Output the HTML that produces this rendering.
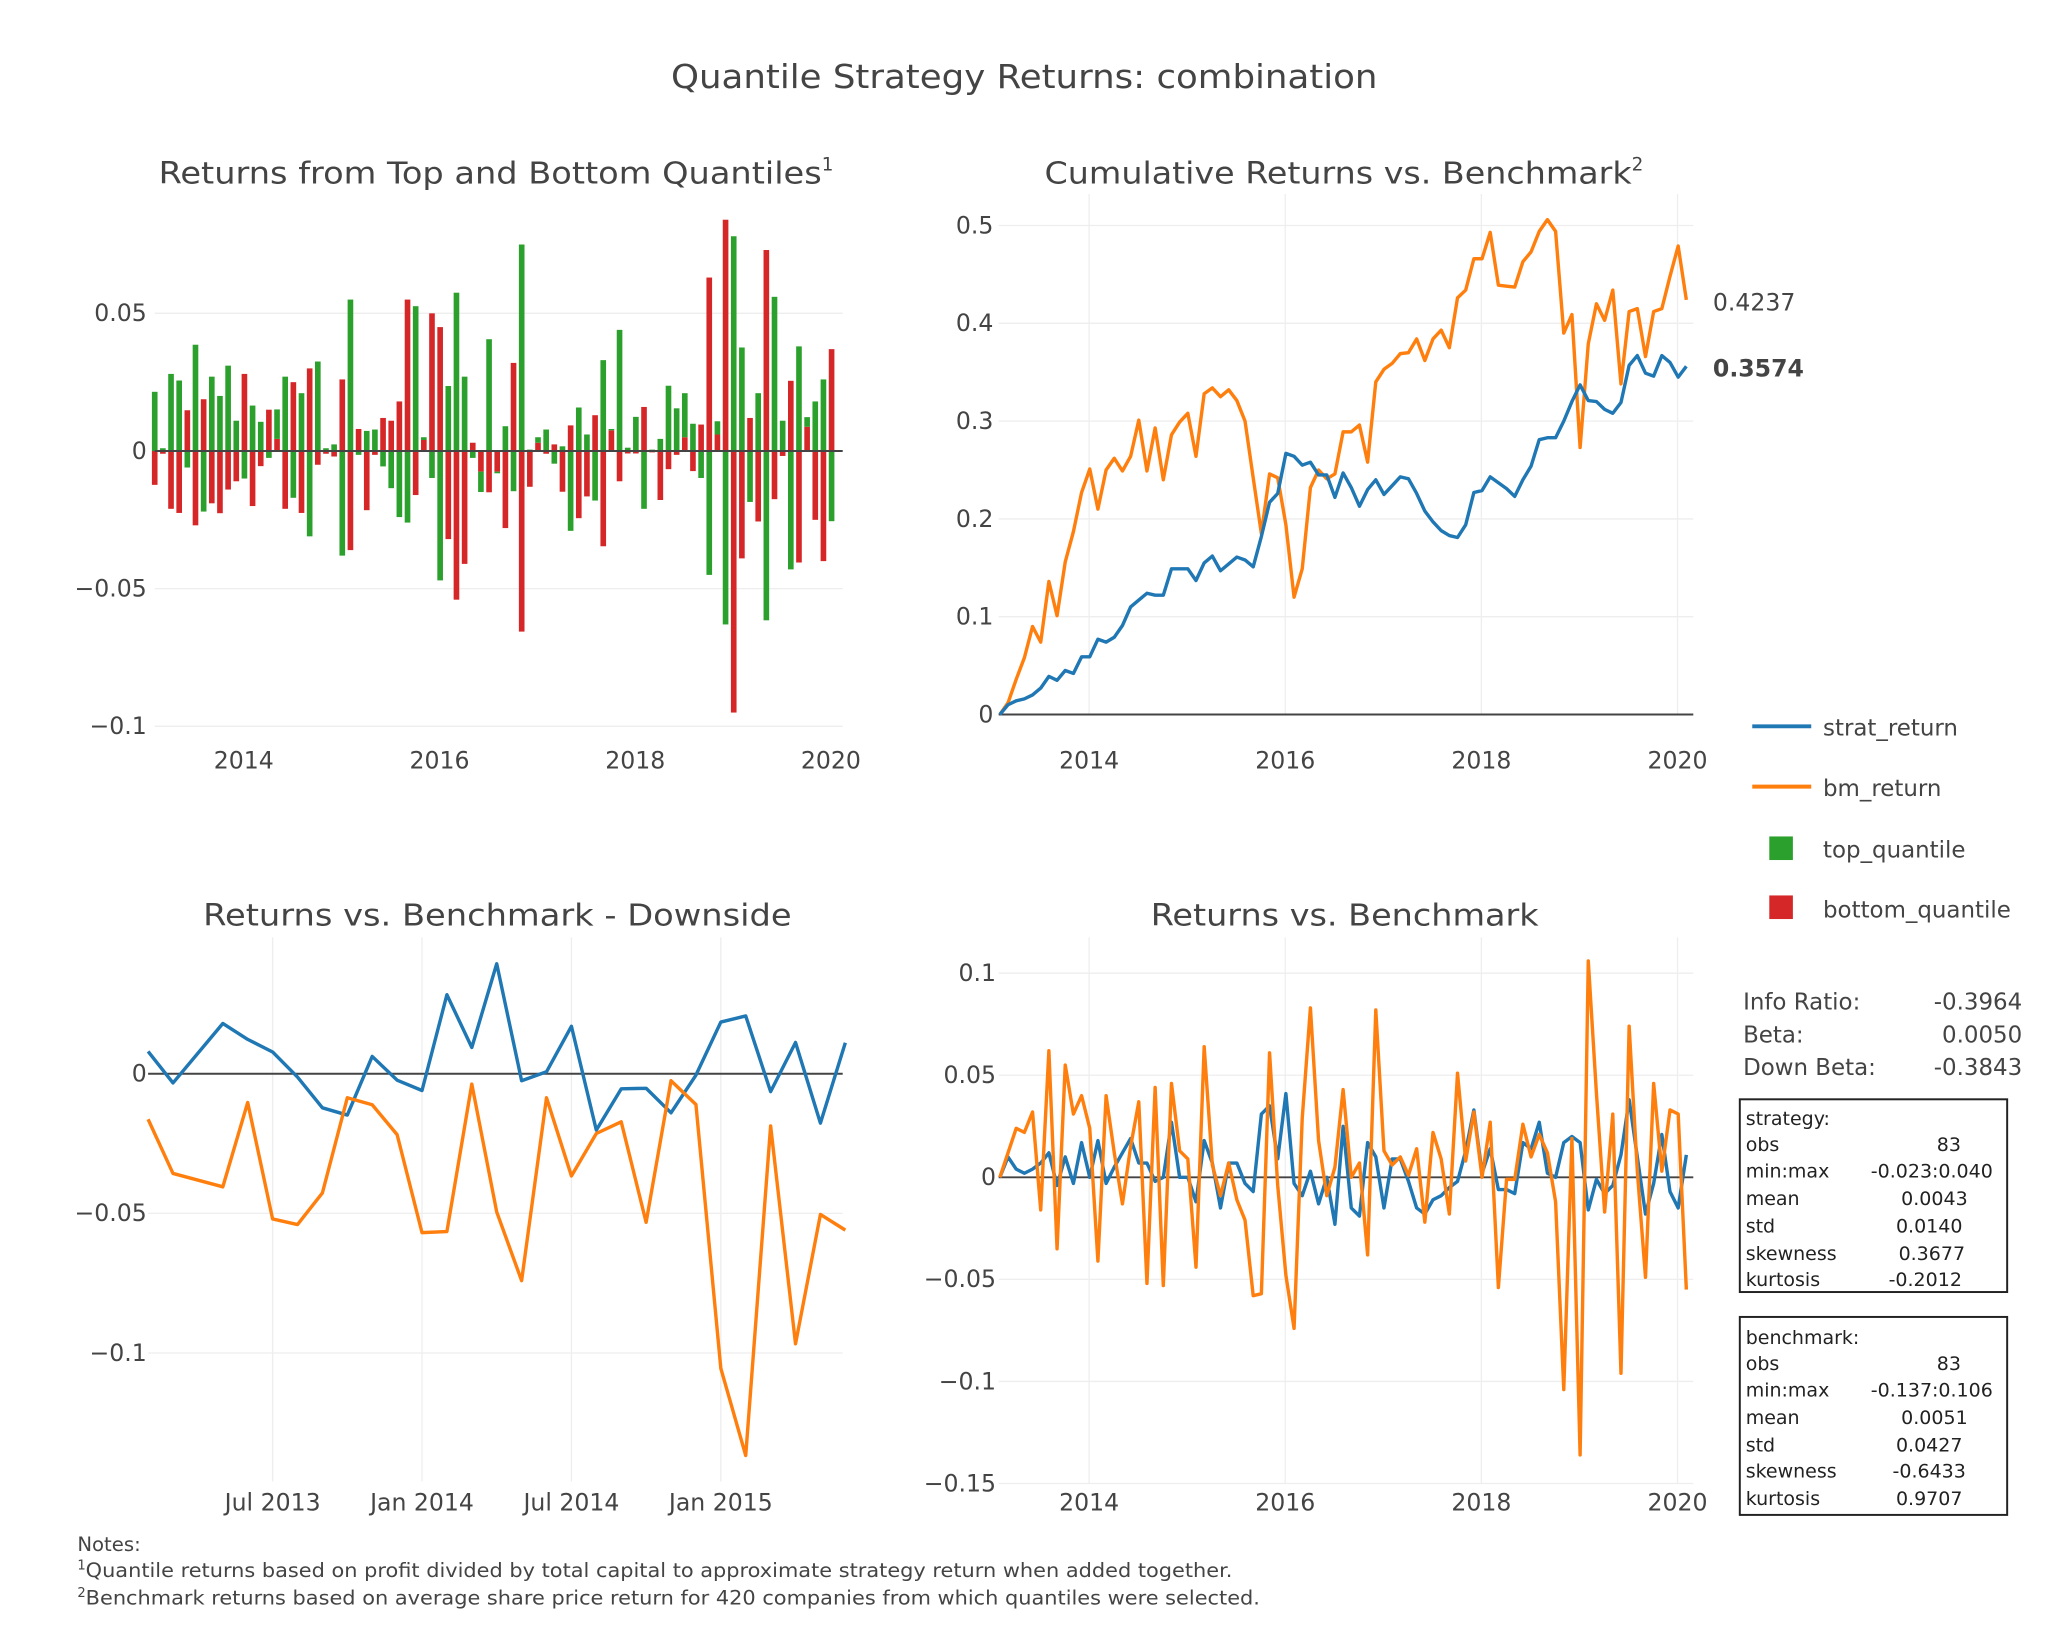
<!DOCTYPE html>
<html><head><meta charset="utf-8">
<style>
html,body{margin:0;padding:0;background:#fff;}
svg{display:block;font-family:"DejaVu Sans","Liberation Sans",sans-serif;}
</style></head>
<body>
<svg id="chart" width="2055" height="1627" viewBox="0 0 1568 1241" preserveAspectRatio="none" xmlns="http://www.w3.org/2000/svg">
<text x="512" y="67" textLength="539" lengthAdjust="spacingAndGlyphs" font-size="25" fill="#444">Quantile Strategy Returns: combination</text>
<text x="121" y="140" font-size="23" fill="#444"><tspan textLength="506" lengthAdjust="spacingAndGlyphs">Returns from Top and Bottom Quantiles</tspan><tspan font-size="14" dy="-10">1</tspan></text>
<text x="797" y="140" font-size="23" fill="#444"><tspan textLength="448" lengthAdjust="spacingAndGlyphs">Cumulative Returns vs. Benchmark</tspan><tspan font-size="14" dy="-10">2</tspan></text>
<text x="155" y="706" textLength="449" lengthAdjust="spacingAndGlyphs" font-size="23" fill="#444">Returns vs. Benchmark - Downside</text>
<text x="878" y="706" textLength="296" lengthAdjust="spacingAndGlyphs" font-size="23" fill="#444">Returns vs. Benchmark</text>
<g id="g1"></g>
<g id="g2"></g>
<g id="g3"></g>
<g id="g4"></g>
<text x="1307" y="237" font-size="18" fill="#444">0.4237</text>
<text x="1307" y="287" font-size="18" font-weight="bold" fill="#444">0.3574</text>
<g font-size="17.5" fill="#444">
<g><line x1="1337" x2="1382" y1="554" y2="554" stroke="#1f77b4" stroke-width="3"/><text x="1391" y="561">strat_return</text></g>
<g><line x1="1337" x2="1382" y1="600" y2="600" stroke="#ff7f0e" stroke-width="3"/><text x="1391" y="607">bm_return</text></g>
<g><rect x="1350" y="638" width="18" height="18" fill="#2ca02c"/><text x="1391" y="654">top_quantile</text></g>
<g><rect x="1350" y="683" width="18" height="18" fill="#d62728"/><text x="1391" y="700">bottom_quantile</text></g>
</g>
<g font-size="17.5" fill="#444">
<text x="1330" y="770">Info Ratio:</text><text x="1543" y="770" text-anchor="end">-0.3964</text>
<text x="1330" y="795">Beta:</text><text x="1543" y="795" text-anchor="end">0.0050</text>
<text x="1330" y="820">Down Beta:</text><text x="1543" y="820" text-anchor="end">-0.3843</text>
</g>
<g font-size="14.5" fill="#222">
<rect x="1327.5" y="838.5" width="204" height="147" fill="none" stroke="#222" stroke-width="1.5"/>
<text x="1332" y="858">strategy:</text>
<text x="1332" y="878">obs</text><text x="1487" y="878" text-anchor="middle">83</text>
<text x="1332" y="898">min:max</text><text x="1474" y="898" text-anchor="middle">-0.023:0.040</text>
<text x="1332" y="919">mean</text><text x="1476" y="919" text-anchor="middle">0.0043</text>
<text x="1332" y="940">std</text><text x="1472" y="940" text-anchor="middle">0.0140</text>
<text x="1332" y="961">skewness</text><text x="1474" y="961" text-anchor="middle">0.3677</text>
<text x="1332" y="981">kurtosis</text><text x="1469" y="981" text-anchor="middle">-0.2012</text>
</g>
<g font-size="14.5" fill="#222">
<rect x="1327.5" y="1004.5" width="204" height="151" fill="none" stroke="#222" stroke-width="1.5"/>
<text x="1332" y="1025">benchmark:</text>
<text x="1332" y="1045">obs</text><text x="1487" y="1045" text-anchor="middle">83</text>
<text x="1332" y="1065">min:max</text><text x="1474" y="1065" text-anchor="middle">-0.137:0.106</text>
<text x="1332" y="1086">mean</text><text x="1476" y="1086" text-anchor="middle">0.0051</text>
<text x="1332" y="1107">std</text><text x="1472" y="1107" text-anchor="middle">0.0427</text>
<text x="1332" y="1127">skewness</text><text x="1472" y="1127" text-anchor="middle">-0.6433</text>
<text x="1332" y="1148">kurtosis</text><text x="1472" y="1148" text-anchor="middle">0.9707</text>
</g>
<g font-size="15" fill="#444">
<text x="59" y="1183">Notes:</text>
<text x="59" y="1203"><tspan font-size="10" dy="-6">1</tspan><tspan dy="6" textLength="875" lengthAdjust="spacingAndGlyphs">Quantile returns based on profit divided by total capital to approximate strategy return when added together.</tspan></text>
<text x="59" y="1224"><tspan font-size="10" dy="-6">2</tspan><tspan dy="6" textLength="896" lengthAdjust="spacingAndGlyphs">Benchmark returns based on average share price return for 420 companies from which quantiles were selected.</tspan></text>
</g>
</svg>
<script>
// ---- data ----
var topQuantile = [0.0215,0.001,0.028,0.0256,-0.006,0.0386,-0.022,0.027,0.020,0.031,0.011,-0.010,0.0165,0.0106,-0.0025,0.0107,0.027,-0.017,0.021,-0.031,0.0325,0.001,0.0024,-0.038,0.055,-0.0014,0.0073,0.0078,-0.0056,-0.0135,-0.024,-0.026,0.0526,0.001,-0.0098,-0.047,0.0236,0.0575,0.027,-0.0025,-0.0074,0.0406,-0.0006,0.009,-0.0146,0.075,0.0005,0.002,0.0078,-0.0046,0.0017,-0.029,0.0158,0.006,-0.018,0.033,0.0005,0.044,0.0012,0.0124,-0.021,0.0005,0.0044,0.0237,0.0155,0.016,0.0099,-0.0098,-0.045,0.0048,-0.063,0.078,0.0376,-0.0185,0.021,-0.0615,0.056,0.011,-0.043,0.038,0.0035,0.018,0.026,-0.0255];
var bottomQuantile = [-0.0123,-0.001,-0.021,-0.0225,0.0148,-0.027,0.0188,-0.019,-0.0226,-0.014,-0.011,0.028,-0.020,-0.0055,0.015,0.0044,-0.021,0.025,-0.0225,0.030,-0.005,-0.001,-0.002,0.026,-0.036,0.008,-0.0215,-0.0014,0.012,0.011,0.018,0.055,-0.016,0.004,0.050,0.045,-0.032,-0.054,-0.041,0.003,-0.0075,-0.015,-0.0075,-0.028,0.032,-0.0656,-0.013,0.003,-0.001,0.0024,-0.0148,0.0093,-0.0244,-0.0165,0.013,-0.0346,0.0075,-0.011,-0.0009,-0.0009,0.016,-0.0005,-0.0178,-0.0066,-0.0014,0.005,-0.0073,0.0096,0.063,0.006,0.084,-0.095,-0.039,0.012,-0.0256,0.073,-0.0175,-0.0018,0.0255,-0.0405,0.0088,-0.025,-0.040,0.037];
var stratCum = [0,.010,.014,.016,.020,.027,.039,.035,.045,.042,.059,.059,.077,.074,.079,.091,.110,.117,.124,.122,.122,.149,.149,.149,.137,.155,.162,.147,.154,.161,.158,.151,.182,.217,.226,.267,.264,.255,.258,.245,.245,.222,.247,.232,.213,.230,.240,.225,.234,.243,.241,.226,.208,.197,.188,.183,.181,.194,.227,.229,.243,.237,.231,.223,.240,.254,.281,.283,.283,.300,.320,.337,.321,.320,.312,.308,.319,.357,.367,.349,.346,.367,.360,.345,.356];
var bmCum = [0,.012,.036,.058,.090,.074,.136,.101,.156,.187,.227,.251,.210,.250,.262,.249,.264,.301,.249,.293,.240,.286,.299,.308,.264,.328,.334,.325,.332,.321,.300,.242,.185,.246,.242,.194,.120,.149,.232,.250,.241,.246,.289,.289,.296,.258,.340,.353,.359,.369,.370,.384,.362,.384,.393,.375,.426,.434,.466,.466,.493,.439,.438,.437,.463,.473,.494,.506,.494,.390,.409,.273,.379,.420,.403,.434,.338,.412,.415,.366,.412,.415,.448,.479,.424];
var stratRet = [0,.010,.004,.002,.004,.007,.012,-.004,.010,-.003,.017,0,.018,-.003,.005,.012,.019,.007,.007,-.002,0,.027,0,0,-.012,.018,.007,-.015,.007,.007,-.003,-.007,.031,.035,.009,.041,-.003,-.009,.003,-.013,0,-.023,.025,-.015,-.019,.017,.010,-.015,.009,.009,-.002,-.015,-.018,-.011,-.009,-.005,-.002,.013,.033,.002,.014,-.006,-.006,-.008,.017,.014,.027,.002,0,.017,.020,.017,-.016,-.001,-.008,-.004,.011,.038,.010,-.018,-.003,.021,-.007,-.015,.011];
var bmRet = [0,.012,.024,.022,.032,-.016,.062,-.035,.055,.031,.040,.024,-.041,.040,.012,-.013,.015,.037,-.052,.044,-.053,.046,.013,.009,-.044,.064,.006,-.009,.007,-.011,-.021,-.058,-.057,.061,-.004,-.048,-.074,.029,.083,.018,-.009,.005,.043,0,.007,-.038,.082,.013,.006,.010,.001,.014,-.022,.022,.009,-.018,.051,.008,.032,0,.027,-.054,-.001,-.001,.026,.010,.021,.012,-.012,-.104,.019,-.136,.106,.041,-.017,.031,-.096,.074,.003,-.049,.046,.003,.033,.031,-.055];
var downMonths = [1,2,4,5,6,7,8,9,10,11,12,13,14,15,16,17,18,19,20,21,22,23,24,25,26,27,28,29];
var downStrat = [.008,-.0033,.018,.0123,.0078,-.0012,-.0122,-.0148,.0062,-.0023,-.006,.0283,.0094,.0394,-.0025,.0007,.017,-.0202,-.0054,-.0052,-.014,-.0005,.0185,.0207,-.0064,.0112,-.0177,.0111];
var downBm = [-.0163,-.0357,-.0405,-.0103,-.052,-.054,-.0427,-.0086,-.0111,-.0218,-.0569,-.0565,-.0037,-.0495,-.0741,-.0086,-.0366,-.0214,-.0172,-.0532,-.0025,-.011,-.1055,-.1367,-.0187,-.0967,-.0504,-.056];
var startYear = 2013.09;
var yearTicks = [2014,2016,2018,2020];
var yearTickLabels = ["2014","2016","2018","2020"];
var ticks1 = [0.05,0,-0.05,-0.1], ticks1Labels = ["0.05","0","\u22120.05","\u22120.1"];
var ticks2 = [0,0.1,0.2,0.3,0.4,0.5], ticks2Labels = ["0","0.1","0.2","0.3","0.4","0.5"];
var ticks3 = [0,-0.05,-0.1], ticks3Labels = ["0","\u22120.05","\u22120.1"];
var ticks3x = [6,12,18,24], ticks3xLabels = ["Jul 2013","Jan 2014","Jul 2014","Jan 2015"];
var ticks4 = [0.1,0.05,0,-0.05,-0.1,-0.15], ticks4Labels = ["0.1","0.05","0","\u22120.05","\u22120.1","\u22120.15"];

var NS = "http://www.w3.org/2000/svg";
function mk(parent, tag, attrs){ var e=document.createElementNS(NS,tag); for(var k in attrs) e.setAttribute(k,attrs[k]); parent.appendChild(e); return e; }

(function(){
  var g=document.getElementById('g1');
  var x=function(t){return 186+(t-2014)*74.67;}, y=function(v){return 344-v*2100;};
  ticks1.forEach(function(v,i){
    var l=mk(g,'line',{x1:118,x2:643,y1:y(v),y2:y(v),stroke:'#eee','stroke-width':1});
     
    var t=mk(g,'text',{x:112,y:y(v)+6,'text-anchor':'end','font-size':18,fill:'#444'}); t.textContent=ticks1Labels[i];
     
  });
  yearTicks.forEach(function(v,i){
    var t=mk(g,'text',{x:x(v),y:586,'text-anchor':'middle','font-size':18,fill:'#444'}); t.textContent=yearTickLabels[i];
     
  });
  var w=4.3;
  for(var i=0;i<topQuantile.length;i++){
    var cx=x(startYear+i/12), pos=0, neg=0;
    [[bottomQuantile[i],'#d62728','bar-bottom-quantile'],[topQuantile[i],'#2ca02c','bar-top-quantile']].forEach(function(s){
      var v=s[0], b0, b1;
      if(v>=0){b0=pos;pos+=v;b1=pos;}else{b0=neg;neg+=v;b1=neg;}
      var r=mk(g,'rect',{x:cx-w/2,y:Math.min(y(b0),y(b1)),width:w,height:Math.abs(y(b1)-y(b0)),fill:s[1]});
       
    });
  }
  var z=mk(g,'line',{x1:118,x2:643,y1:y(0),y2:y(0),stroke:'#444','stroke-width':1.5});
   
})();

function linePanel(g, xs, ys, x, y, color, name){
  var d=xs.map(function(t,i){return (i?'L':'M')+x(t).toFixed(2)+','+y(ys[i]).toFixed(2);}).join('');
  var p=mk(g,'path',{d:d,fill:'none',stroke:color,'stroke-width':2.6,'stroke-linejoin':'round'});
   
}
function monthsX(n){ var a=[]; for(var i=0;i<n;i++) a.push(startYear+i/12); return a; }

(function(){
  var g=document.getElementById('g2');
  var x=function(t){return 831+(t-2014)*74.83;}, y=function(v){return 545-v*746;};
  yearTicks.forEach(function(v,i){
    var l=mk(g,'line',{x1:x(v),x2:x(v),y1:148,y2:545,stroke:'#eee'});
     
    var t=mk(g,'text',{x:x(v),y:586,'text-anchor':'middle','font-size':18,fill:'#444'}); t.textContent=yearTickLabels[i];
     
  });
  ticks2.forEach(function(v,i){
    var l=mk(g,'line',{x1:762,x2:1292,y1:y(v),y2:y(v),stroke:'#eee'});
     
    var t=mk(g,'text',{x:758,y:y(v)+6,'text-anchor':'end','font-size':18,fill:'#444'}); t.textContent=ticks2Labels[i];
     
  });
  var z=mk(g,'line',{x1:762,x2:1292,y1:y(0),y2:y(0),stroke:'#444','stroke-width':1.5});
   
  linePanel(g, monthsX(bmCum.length), bmCum, x, y, '#ff7f0e', 'bm-return-cumulative-line');
  linePanel(g, monthsX(stratCum.length), stratCum, x, y, '#1f77b4', 'strat-return-cumulative-line');
})();

(function(){
  var g=document.getElementById('g3');
  var x=function(m){return 208+(m-6)*19;}, y=function(v){return 819-v*2130;};
  ticks3x.forEach(function(v,i){
    var l=mk(g,'line',{x1:x(v),x2:x(v),y1:715,y2:1130,stroke:'#eee'});
     
    var t=mk(g,'text',{x:x(v),y:1152,'text-anchor':'middle','font-size':18,fill:'#444'}); t.textContent=ticks3xLabels[i];
     
  });
  ticks3.forEach(function(v,i){
    var l=mk(g,'line',{x1:113,x2:643,y1:y(v),y2:y(v),stroke:'#eee'});
     
    var t=mk(g,'text',{x:112,y:y(v)+6,'text-anchor':'end','font-size':18,fill:'#444'}); t.textContent=ticks3Labels[i];
     
  });
  var z=mk(g,'line',{x1:113,x2:643,y1:y(0),y2:y(0),stroke:'#444','stroke-width':1.5});
   
  linePanel(g, downMonths, downStrat, x, y, '#1f77b4', 'downside-strat-line');
  linePanel(g, downMonths, downBm, x, y, '#ff7f0e', 'downside-bm-line');
})();

(function(){
  var g=document.getElementById('g4');
  var x=function(t){return 831+(t-2014)*74.83;}, y=function(v){return 898-v*1557;};
  yearTicks.forEach(function(v,i){
    var l=mk(g,'line',{x1:x(v),x2:x(v),y1:715,y2:1132,stroke:'#eee'});
     
    var t=mk(g,'text',{x:x(v),y:1152,'text-anchor':'middle','font-size':18,fill:'#444'}); t.textContent=yearTickLabels[i];
     
  });
  ticks4.forEach(function(v,i){
    var l=mk(g,'line',{x1:762,x2:1292,y1:y(v),y2:y(v),stroke:'#eee'});
     
    var t=mk(g,'text',{x:760,y:y(v)+6,'text-anchor':'end','font-size':18,fill:'#444'}); t.textContent=ticks4Labels[i];
     
  });
  var z=mk(g,'line',{x1:762,x2:1292,y1:y(0),y2:y(0),stroke:'#444','stroke-width':1.5});
   
  linePanel(g, monthsX(stratRet.length), stratRet, x, y, '#1f77b4', 'strat-return-line');
  linePanel(g, monthsX(bmRet.length), bmRet, x, y, '#ff7f0e', 'bm-return-line');
})();
</script>
</body></html>
